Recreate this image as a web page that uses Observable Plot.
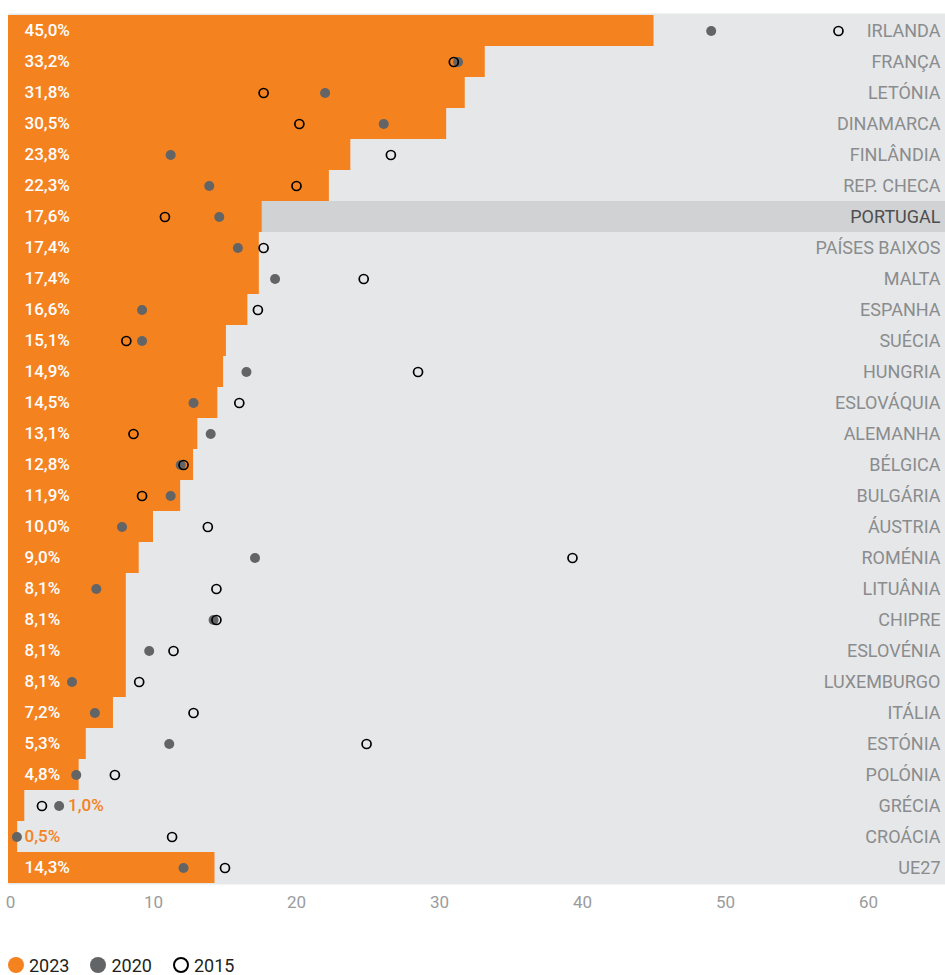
<!DOCTYPE html>
<html>
<head>
<meta charset="utf-8">
<script src="https://cdn.jsdelivr.net/npm/d3@7"></script>
<script src="https://cdn.jsdelivr.net/npm/@observablehq/plot@0.6"></script>
<style>
  body { margin: 0; background: #fff; font-family: Roboto, "Noto Sans", sans-serif; }
  #chart svg { display: block; }
  .legend { display: flex; align-items: center; margin: 30px 0 0 8px; font-size: 18px; color: #231f20; height: 20px; }
  .legend span.item { display: flex; align-items: center; margin-right: 21px; }
  .legend .sw { width: 16px; height: 16px; border-radius: 50%; margin-right: 5px; box-sizing: border-box; }
</style>
</head>
<body>
<div id="chart"></div>
<div class="legend">
  <span class="item"><span class="sw" style="background:#f4821f"></span>2023</span>
  <span class="item"><span class="sw" style="background:#636466"></span>2020</span>
  <span class="item"><span class="sw" style="border:2.5px solid #000"></span>2015</span>
</div>
<script>
// Countries, top to bottom
const countries = [
  "IRLANDA", "FRANÇA", "LETÓNIA", "DINAMARCA", "FINLÂNDIA", "REP. CHECA", "PORTUGAL",
  "PAÍSES BAIXOS", "MALTA", "ESPANHA", "SUÉCIA", "HUNGRIA", "ESLOVÁQUIA", "ALEMANHA",
  "BÉLGICA", "BULGÁRIA", "ÁUSTRIA", "ROMÉNIA", "LITUÂNIA", "CHIPRE", "ESLOVÉNIA",
  "LUXEMBURGO", "ITÁLIA", "ESTÓNIA", "POLÓNIA", "GRÉCIA", "CROÁCIA", "UE27"
];

// Share (%) in 2023, 2020 and 2015
const values2023 = [45.0, 33.2, 31.8, 30.5, 23.8, 22.3, 17.6, 17.4, 17.4, 16.6, 15.1, 14.9, 14.5, 13.1,
  12.8, 11.9, 10.0, 9.0, 8.1, 8.1, 8.1, 8.1, 7.2, 5.3, 4.8, 1.0, 0.5, 14.3];
const values2020 = [49.0, 31.3, 22.0, 26.1, 11.2, 13.9, 14.6, 15.9, 18.5, 9.2, 9.2, 16.5, 12.8, 14.0,
  11.9, 11.2, 7.8, 17.1, 6.0, 14.2, 9.7, 4.3, 5.9, 11.1, 4.6, 3.4, 0.45, 12.1];
const values2015 = [57.9, 31.0, 17.7, 20.2, 26.6, 20.0, 10.8, 17.7, 24.7, 17.3, 8.1, 28.5, 16.0, 8.6,
  12.1, 9.2, 13.8, 39.3, 14.4, 14.4, 11.4, 9.0, 12.8, 24.9, 7.3, 2.2, 11.3, 15.0];

const xTicks = [0, 10, 20, 30, 40, 50, 60];
const highlight = "PORTUGAL";

const rows = countries.map((country, i) => ({
  country, v23: values2023[i], v20: values2020[i], v15: values2015[i]
}));

const fmt = v => v.toFixed(1).replace(".", ",") + "%";
const orange = "#f4821f";
const font = "Roboto, 'Noto Sans', sans-serif";

// Labels sit inside the bar unless the bar is too short for them
const inside = rows.filter(d => d.v23 >= 3);
const outsideStart = rows.filter(d => d.v23 < 3 && d.v20 <= d.v23);
const outsideAfterDot = rows.filter(d => d.v23 < 3 && d.v20 > d.v23);

const labelStyle = { fontSize: 17, fontWeight: 500, textAnchor: "start", letterSpacing: "0.5px" };

const chart = Plot.plot({
  width: 945,
  height: 925,
  marginLeft: 8,
  marginRight: 0,
  marginTop: 13,
  marginBottom: 41,
  style: { fontFamily: font, background: "#fff" },
  x: { domain: [0, 60], range: [10, 868], axis: null },
  y: { domain: countries, padding: 0, axis: null },
  marks: [
    Plot.frame({ fill: "#e6e7e8", stroke: null }),
    Plot.barX(rows.filter(d => d.country === highlight), {
      y: "country", x1: 0, x2: 70, fill: "#d1d2d4"
    }),
    Plot.barX(rows, { y: "country", x1: 0, x2: "v23", fill: orange, insetLeft: -2 }),
    Plot.dot(rows, { y: "country", x: "v20", r: 5, fill: "#636466" }),
    Plot.dot(rows, { y: "country", x: "v15", r: 4.5, stroke: "#000", strokeWidth: 1.7, fill: "none" }),
    Plot.text(inside, {
      y: "country", x: () => 0, dx: 14, text: d => fmt(d.v23), fill: "#fff", ...labelStyle
    }),
    Plot.text(outsideStart, {
      y: "country", x: () => 0, dx: 14, text: d => fmt(d.v23), fill: orange, ...labelStyle
    }),
    Plot.text(outsideAfterDot, {
      y: "country", x: "v20", dx: 9, text: d => fmt(d.v23), fill: orange, ...labelStyle
    }),
    Plot.text(rows, {
      y: "country", frameAnchor: "right", dx: -5, text: "country", textAnchor: "end",
      fill: d => d.country === highlight ? "#4d4e50" : "#8a8c8e", fontSize: 18, letterSpacing: "0.3px"
    }),
    Plot.axisX(xTicks, {
      tickSize: 0, tickPadding: 11, fontSize: 17, fill: "#9a9b9d", tickFormat: d => d
    })
  ]
});

document.getElementById("chart").append(chart);
</script>
</body>
</html>
